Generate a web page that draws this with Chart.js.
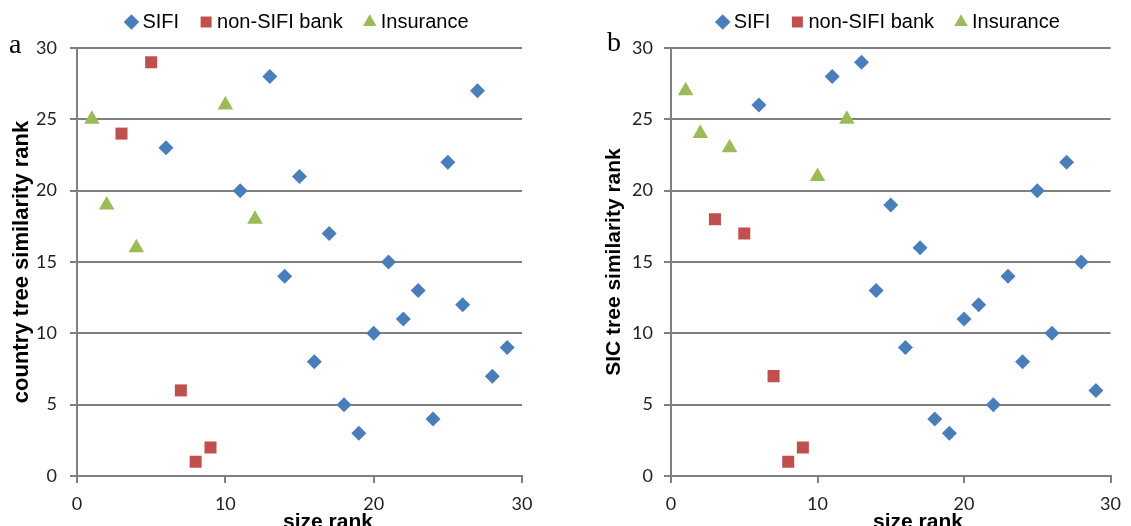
<!DOCTYPE html>
<html>
<head>
<meta charset="utf-8">
<script src="https://cdn.jsdelivr.net/npm/chart.js@4.4.1/dist/chart.umd.min.js"></script>
<style>
html, body { margin: 0; padding: 0; background: #fff; overflow: hidden; width: 1131px; height: 526px; }
.panel { position: absolute; top: 0; height: 540px; }
#wrapA { left: 0; width: 560px; }
#wrapB { left: 560px; width: 571px; }
.tag { position: absolute; font-family: "Liberation Serif", serif; font-size: 28px; color: #000; line-height: 1; }
.xtitle { position: absolute; top: 510px; width: 180px; text-align: center; font-family: "Liberation Sans", sans-serif;
          font-weight: bold; font-size: 21px; line-height: 21px; color: #000; }
</style>
</head>
<body>
<div class="panel" id="wrapA"><canvas id="chartA"></canvas></div>
<div class="panel" id="wrapB"><canvas id="chartB"></canvas></div>
<div class="tag" style="left:9px;top:30px">a</div>
<div class="tag" style="left:607px;top:28px">b</div>
<div class="xtitle" style="left:238px">size rank</div>
<div class="xtitle" style="left:828px">size rank</div>
<script>
// size rank (x) of each institution
const sizeSIFI = [6, 11, 13, 14, 15, 16, 17, 18, 19, 20, 21, 22, 23, 24, 25, 26, 27, 28, 29];
const sizeBank = [3, 5, 7, 8, 9];
const sizeIns = [1, 2, 4, 10, 12];

// panel a: country tree similarity rank
const countrySIFI = [23, 20, 28, 14, 21, 8, 17, 5, 3, 10, 15, 11, 13, 4, 22, 12, 27, 7, 9];
const countryBank = [24, 29, 6, 1, 2];
const countryIns = [25, 19, 16, 26, 18];

// panel b: SIC tree similarity rank
const sicSIFI = [26, 28, 29, 13, 19, 9, 16, 4, 3, 11, 12, 5, 14, 8, 20, 10, 22, 15, 6];
const sicBank = [18, 17, 7, 1, 2];
const sicIns = [27, 24, 23, 21, 25];

const seriesNames = ['SIFI', 'non-SIFI bank', 'Insurance'];
const xTicks = [0, 10, 20, 30];
const yTicks = [0, 5, 10, 15, 20, 25, 30];

const GRID = '#808080';
const TICK_FONT = { family: 'Lato', size: 18 };

function pts(xs, ys) {
    return xs.map((x, i) => ({ x: x, y: ys[i] }));
}

function makeChart(id, yTitle, ySIFI, yBank, yIns, cfg) {
    const ctx = document.getElementById(id).getContext('2d');
    return new Chart(ctx, {
        type: 'scatter',
        data: {
            datasets: [
                { label: seriesNames[0], data: pts(sizeSIFI, ySIFI), pointStyle: 'rectRot', pointRadius: 7.5,
                  backgroundColor: '#4a7ebb', borderColor: '#4a7ebb', borderWidth: 0 },
                { label: seriesNames[1], data: pts(sizeBank, yBank), pointStyle: 'rect', pointRadius: 8.5,
                  backgroundColor: '#c0504d', borderColor: '#c0504d', borderWidth: 0 },
                { label: seriesNames[2], data: pts(sizeIns, yIns), pointStyle: 'triangle', pointRadius: 9,
                  backgroundColor: '#9bbb59', borderColor: '#9bbb59', borderWidth: 0 }
            ]
        },
        options: {
            responsive: true,
            maintainAspectRatio: false,
            animation: false,
            layout: { padding: { top: -14, right: cfg.padRight, bottom: 0, left: 0 } },
            plugins: {
                tooltip: { enabled: false },
                legend: {
                    position: 'top',
                    fullSize: false,
                    labels: {
                        usePointStyle: true,
                        boxWidth: 2,
                        boxHeight: 11,
                        padding: 26,
                        color: '#000',
                        font: { family: 'Liberation Sans', size: 20, lineHeight: 1 }
                    }
                },
                // empty spacer between the legend and the plot
                subtitle: {
                    display: true,
                    text: '',
                    position: 'top',
                    fullSize: false,
                    weight: 500,
                    padding: 0,
                    font: { size: 6, lineHeight: 1 }
                }
            },
            scales: {
                x: {
                    type: 'linear',
                    min: 0,
                    max: 30,
                    afterBuildTicks: s => { s.ticks = xTicks.map(v => ({ value: v })); },
                    ticks: { font: TICK_FONT, color: '#222', padding: 10, maxRotation: 0 },
                    grid: { drawOnChartArea: false, drawTicks: true, tickLength: 7, color: GRID, lineWidth: 2 },
                    border: { display: true, color: GRID, width: 2 },
                    afterFit: s => { s.height = 64; }
                },
                y: {
                    type: 'linear',
                    min: 0,
                    max: 30,
                    afterBuildTicks: s => { s.ticks = yTicks.map(v => ({ value: v })); },
                    ticks: { font: TICK_FONT, color: '#222', padding: cfg.labelPad },
                    grid: { color: GRID, lineWidth: 2, tickLength: 7 },
                    border: { display: true, color: GRID, width: 2 },
                    title: { display: true, text: yTitle, color: '#000',
                             font: { family: 'Liberation Sans', size: cfg.titleSize, weight: 'bold', lineHeight: 1 },
                             padding: { top: cfg.titlePad, bottom: 0 } },
                    afterFit: s => { s.width = cfg.yWidth; }
                }
            }
        }
    });
}

makeChart('chartA', 'country tree similarity rank', countrySIFI, countryBank, countryIns,
    { yWidth: 77, titlePad: 11, titleSize: 22, labelPad: 13, padRight: 38 });
makeChart('chartB', 'SIC tree similarity rank', sicSIFI, sicBank, sicIns,
    { yWidth: 111, titlePad: 44, titleSize: 21, labelPad: 11, padRight: 11 });
</script>
</body>
</html>
